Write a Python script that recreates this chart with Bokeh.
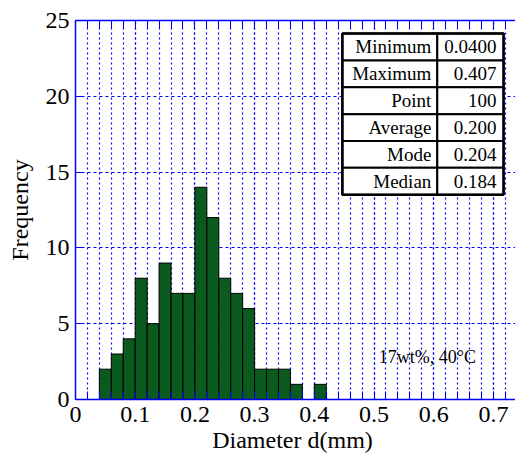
from bokeh.plotting import figure
from bokeh.models import Range1d, FixedTicker, LinearAxis
from bokeh.core.properties import value
from bokeh.embed import file_html
from bokeh.resources import INLINE

# ---- data ----
bin_centers = [0.05, 0.07, 0.09, 0.11, 0.13, 0.15, 0.17, 0.19, 0.21, 0.23,
               0.25, 0.27, 0.29, 0.31, 0.33, 0.35, 0.37, 0.39, 0.41]
counts = [2, 3, 4, 8, 5, 9, 7, 7, 14, 12, 8, 7, 6, 2, 2, 2, 1, 0, 1]
bin_width = 0.02
x_ticks = [0, 0.1, 0.2, 0.3, 0.4, 0.5, 0.6, 0.7]
x_minor = [round(i * 0.02, 2) for i in range(0, 37)]
y_ticks = [0, 5, 10, 15, 20, 25]
stat_names = ["Minimum", "Maximum", "Point", "Average", "Mode", "Median"]
stat_values = ["0.0400", "0.407", "100", "0.200", "0.204", "0.184"]
note = "17wt%, 40°C"
x_label = "Diameter  d(mm)"
y_label = "Frequency"

FONT = "Liberation Serif"
BLUE = "#0000ff"

p = figure(width=515, height=457, output_backend="svg", toolbar_location=None,
           x_range=Range1d(0, 0.737), y_range=Range1d(0, 25),
           min_border_left=75, min_border_right=0, min_border_top=20,
           min_border_bottom=58, x_axis_location="below")
p.outline_line_color = None
p.background_fill_color = "white"

# bars
p.vbar(x=bin_centers, top=counts, width=bin_width, bottom=0,
       fill_color="#0b5a1e", line_color="#000000", line_width=1)

# axes
p.xaxis.ticker = FixedTicker(ticks=x_ticks, minor_ticks=x_minor)
p.yaxis.ticker = FixedTicker(ticks=y_ticks, minor_ticks=[])

for ax in [p.xaxis[0], p.yaxis[0]]:
    ax.axis_line_color = BLUE
    ax.axis_line_width = 1.5
    ax.major_tick_line_color = BLUE
    ax.minor_tick_line_color = BLUE
    ax.major_tick_in = 8
    ax.major_tick_out = 0
    ax.minor_tick_in = 8
    ax.minor_tick_out = 0
    ax.major_label_text_font = FONT
    ax.major_label_text_font_size = "24px"
    ax.major_label_text_color = "black"
    ax.axis_label_text_font = FONT
    ax.axis_label_text_font_size = "24px"
    ax.axis_label_text_font_style = "normal"
    ax.axis_label_text_color = "black"

p.xaxis.axis_label = x_label
p.yaxis.axis_label = y_label
p.xaxis.major_label_standoff = 7
p.xaxis.axis_label_standoff = 2
p.yaxis.major_label_standoff = 6
p.yaxis.axis_label_standoff = 10
p.yaxis.minor_tick_line_color = None

# top frame line with inward ticks only (no labels: ticks given as minor ticks)
top_axis = LinearAxis(ticker=FixedTicker(ticks=[], minor_ticks=x_minor),
                      axis_line_color=BLUE, axis_line_width=1.5,
                      major_tick_line_color=BLUE, minor_tick_line_color=BLUE,
                      major_tick_in=8, major_tick_out=0, minor_tick_in=8, minor_tick_out=0,
                      major_label_standoff=0)
p.add_layout(top_axis, "above")

# grids
p.xgrid.grid_line_color = BLUE
p.xgrid.grid_line_dash = "2 3"
p.xgrid.grid_line_width = 1.2
p.xgrid.minor_grid_line_color = BLUE
p.xgrid.minor_grid_line_dash = "2 3"
p.xgrid.minor_grid_line_width = 1.2
p.ygrid.grid_line_color = BLUE
p.ygrid.grid_line_dash = "3 3"
p.ygrid.grid_line_width = 1.2

# statistics table (data coordinates)
tab_left, tab_split, tab_right = 0.447, 0.606, 0.717
tab_top, row_h = 24.14, 1.772
n = len(stat_names)
tops = [tab_top - i * row_h for i in range(n)]
bottoms = [t - row_h for t in tops]
p.quad(left=[tab_left] * n, right=[tab_split] * n, top=tops, bottom=bottoms,
       fill_color="white", line_color="black", line_width=2)
p.quad(left=[tab_split] * n, right=[tab_right] * n, top=tops, bottom=bottoms,
       fill_color="white", line_color="black", line_width=2)
p.quad(left=[tab_left], right=[tab_right], top=[tab_top], bottom=[bottoms[-1]],
       fill_color=None, line_color="black", line_width=2.5)
mids = [t - row_h / 2 for t in tops]
p.text(x=[tab_split - 0.01] * n, y=mids, text=stat_names,
       text_font=value(FONT), text_font_size="19px", text_align="right",
       text_baseline="middle", text_color="black")
p.text(x=[tab_right - 0.012] * n, y=mids, text=stat_values,
       text_font=value(FONT), text_font_size="19px", text_align="right",
       text_baseline="middle", text_color="black")

# note
p.text(x=[0.508], y=[2.8], text=[note], text_font=value(FONT),
       text_font_size="18px", text_align="left", text_baseline="middle",
       text_color="black")

open("out.html", "w").write(file_html(p, INLINE))
